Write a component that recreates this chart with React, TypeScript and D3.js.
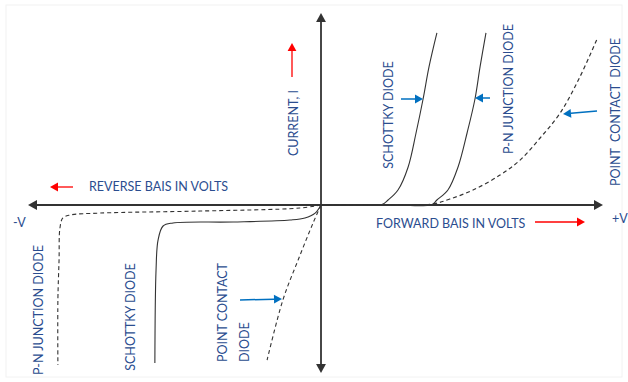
import React from "react";
import * as d3 from "d3";

// Normalized voltage (x) and current (y); axis origin at (0,0)
const schottkyFwdV = [0.138, 0.216, 0.238, 0.273, 0.309, 0.337, 0.362, 0.383, 0.411];
const schottkyFwdI = [0, 0.003, 0.026, 0.078, 0.198, 0.375, 0.552, 0.719, 0.896];
const pnFwdV = [0.28, 0.394, 0.411, 0.45, 0.486, 0.518, 0.546, 0.564, 0.585];
const pnFwdI = [0, 0.003, 0.026, 0.078, 0.198, 0.375, 0.552, 0.719, 0.896];
const pcFwdV = [0, 0.28, 0.394, 0.457, 0.539, 0.635, 0.706, 0.777, 0.848, 0.918, 0.979];
const pcFwdI = [0, 0, 0.005, 0.031, 0.078, 0.156, 0.234, 0.349, 0.479, 0.667, 0.865];
const pnRevV = [0, -0.072, -0.413, -0.754, -0.857, -0.881, -0.891, -0.894, -0.898, -0.898];
const pnRevI = [0, -0.018, -0.036, -0.048, -0.06, -0.077, -0.137, -0.327, -0.565, -0.952];
const schottkyRevV = [0, -0.02, -0.055, -0.106, -0.3, -0.505, -0.539, -0.556, -0.563, -0.567];
const schottkyRevI = [0, -0.048, -0.077, -0.089, -0.101, -0.107, -0.125, -0.208, -0.387, -0.94];
const pcRevV = [0, -0.027, -0.078, -0.13, -0.184];
const pcRevI = [0, -0.107, -0.327, -0.565, -0.923];

const TXT = "#2b4d8f";
const BLUE = "#0070c0";
const RED = "#ff0000";
const AX = "#333333";
const FONT = "Lato, 'Open Sans', sans-serif";

const W = 628, H = 382;
const x = d3.scaleLinear().domain([-1, 0, 1]).range([28, 321, 603]);
const y = d3.scaleLinear().domain([-1, 0, 1]).range([373, 205, 13]);

const zip = (a: number[], b: number[]) => a.map((v, i) => [v, b[i]] as [number, number]);
const line = d3.line<[number, number]>().x(d => x(d[0])).y(d => y(d[1])).curve(d3.curveCatmullRom.alpha(0.5));

function Arrow({ x1, y1, x2, y2, color, w = 1.3, head = 7 }: any) {
  const ang = Math.atan2(y2 - y1, x2 - x1);
  const bx = x2 - head * Math.cos(ang), by = y2 - head * Math.sin(ang);
  const hw = head * 0.55;
  const p1 = [bx + hw * Math.sin(ang), by - hw * Math.cos(ang)];
  const p2 = [bx - hw * Math.sin(ang), by + hw * Math.cos(ang)];
  return (
    <g>
      <line x1={x1} y1={y1} x2={bx} y2={by} stroke={color} strokeWidth={w} />
      <polygon points={`${x2},${y2} ${p1[0]},${p1[1]} ${p2[0]},${p2[1]}`} fill={color} />
    </g>
  );
}

function VText({ cx, cy, children, anchor = "middle", size = 12.5 }: any) {
  return (
    <text transform={`translate(${cx},${cy}) rotate(-90)`} textAnchor={anchor} dominantBaseline="central"
      fill={TXT} fontSize={size} fontFamily={FONT} style={{ whiteSpace: "pre" }}>{children}</text>
  );
}

export default function App() {
  return (
    <svg width={W} height={H} style={{ position: "absolute", left: 0, top: 0, background: "#fff" }}>
      <rect x={6} y={5} width={616} height={372} fill="none" stroke="#f2f2f2" strokeWidth={1} />
      {/* axes */}
      <Arrow x1={x(0)} y1={y(0)} x2={x(-1)} y2={y(0)} color={AX} w={1.8} head={9} />
      <Arrow x1={x(0)} y1={y(0)} x2={x(1)} y2={y(0)} color={AX} w={1.8} head={9} />
      <Arrow x1={x(0)} y1={y(0)} x2={x(0)} y2={y(1)} color={AX} w={1.8} head={9} />
      <Arrow x1={x(0)} y1={y(0)} x2={x(0)} y2={y(-1)} color={AX} w={1.8} head={9} />
      {/* curves */}
      <path d={line(zip(schottkyFwdV, schottkyFwdI)) || ""} fill="none" stroke={AX} strokeWidth={1.1} />
      <path d={line(zip(pnFwdV, pnFwdI)) || ""} fill="none" stroke={AX} strokeWidth={1.1} />
      <path d={line(zip(pcFwdV, pcFwdI)) || ""} fill="none" stroke={AX} strokeWidth={1.2} strokeDasharray="4,3" />
      <path d={line(zip(pnRevV, pnRevI)) || ""} fill="none" stroke={AX} strokeWidth={1.1} strokeDasharray="4,3" />
      <path d={line(zip(schottkyRevV, schottkyRevI)) || ""} fill="none" stroke={AX} strokeWidth={1.1} />
      <path d={line(zip(pcRevV, pcRevI)) || ""} fill="none" stroke={AX} strokeWidth={1.1} strokeDasharray="4,3" />
      {/* red arrows */}
      <Arrow x1={292} y1={77} x2={292} y2={43} color={RED} w={1.3} head={8} />
      <Arrow x1={73} y1={187} x2={50} y2={187} color={RED} w={1.3} head={8} />
      <Arrow x1={535} y1={222} x2={585} y2={222} color={RED} w={1.3} head={8} />
      {/* blue arrows */}
      <Arrow x1={401} y1={99} x2={423} y2={99} color={BLUE} w={1.5} head={8} />
      <Arrow x1={490} y1={98} x2={475} y2={98} color={BLUE} w={1.5} head={8} />
      <Arrow x1={597} y1={111} x2={563} y2={114} color={BLUE} w={1.5} head={8} />
      <Arrow x1={240} y1={300} x2={282} y2={299} color={BLUE} w={1.5} head={8} />
      {/* horizontal texts */}
      <text x={89} y={186} dominantBaseline="central" fill={TXT} fontSize={12.5} fontFamily={FONT}>REVERSE BAIS IN VOLTS</text>
      <text x={376} y={223} dominantBaseline="central" fill={TXT} fontSize={12.5} fontFamily={FONT}>FORWARD BAIS IN VOLTS</text>
      <text x={13} y={222} dominantBaseline="central" fill={TXT} fontSize={12.5} fontFamily={FONT}>-V</text>
      <text x={612} y={218} dominantBaseline="central" fill={TXT} fontSize={12.5} fontFamily={FONT}>+V</text>
      {/* vertical texts */}
      <VText cx={293} cy={123}>CURRENT, I</VText>
      <VText cx={388} cy={115}>SCHOTTKY DIODE</VText>
      <VText cx={508} cy={89}>P-N JUNCTION DIODE</VText>
      <VText cx={615} cy={112}>{"POINT  CONTACT  DIODE"}</VText>
      <VText cx={38} cy={310}>P-N JUNCTION DIODE</VText>
      <VText cx={130} cy={317}>SCHOTTKY DIODE</VText>
      <VText cx={222} cy={362} anchor="start">POINT CONTACT</VText>
      <VText cx={244} cy={362} anchor="start">DIODE</VText>
    </svg>
  );
}
